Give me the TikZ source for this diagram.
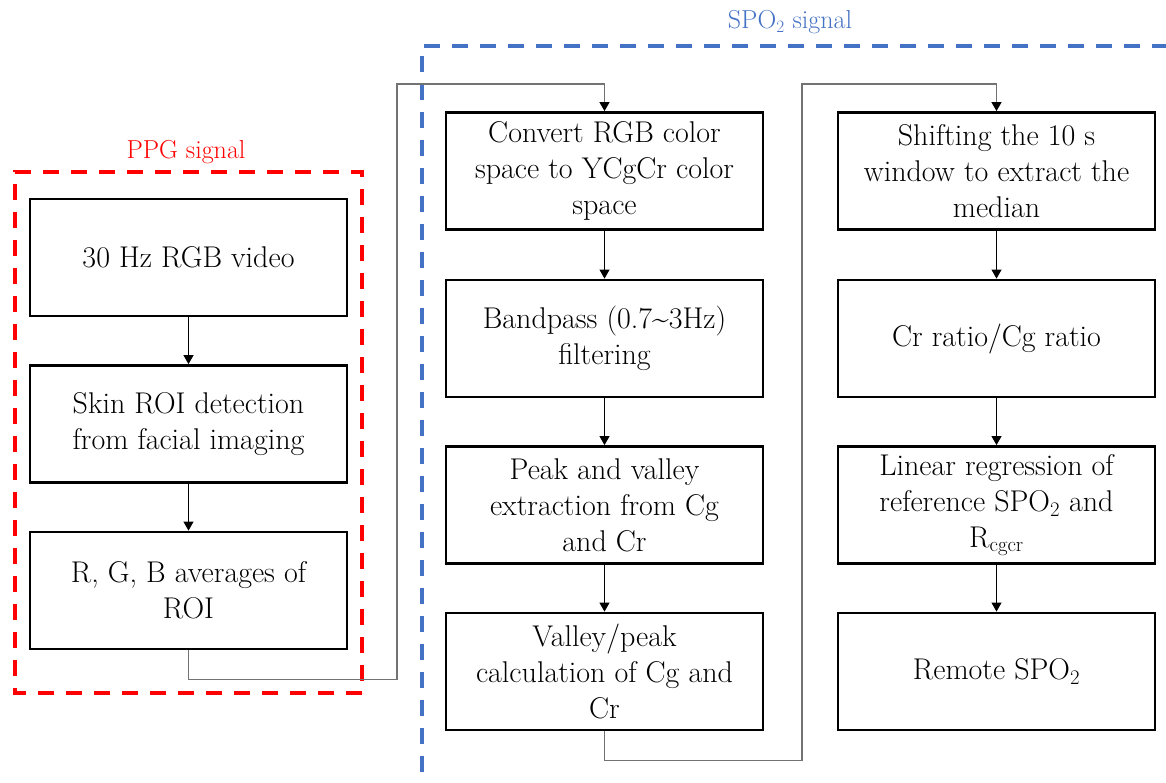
\documentclass[tikz,border=0pt]{standalone}
\usetikzlibrary{arrows.meta}
\definecolor{ppgred}{RGB}{255,0,0}
\definecolor{spoblue}{RGB}{68,114,196}
\begin{document}
\begin{tikzpicture}[x=1pt,y=-1pt,
  stepbox/.style={draw=black,line width=2.8pt,minimum width=317pt,minimum height=117pt,align=center,inner sep=2pt,font=\fontsize{30}{36}\selectfont},
  conn/.style={draw=black!55,line width=1.3pt},
  vconn/.style={draw=black,line width=1pt},
  arr/.style={-{Triangle[length=9pt,width=10pt,color=black]}},
  regionbox/.style={line width=4pt,dash pattern=on 16pt off 12pt}
]
\useasboundingbox (0,0) rectangle (1166,783);
\begin{scope}
\clip (0,0) rectangle (1166,783);
\draw[regionbox,spoblue] (422,800) -- (422,46) -- (1180,46);
\end{scope}
\draw[regionbox,ppgred] (362,693) -- (15,693) -- (15,172) -- (362,172) -- cycle;
\node[text=ppgred,font=\fontsize{26}{30}\selectfont] (ppglabel) at (186,152) {PPG signal};
\node[text=spoblue,font=\fontsize{26}{30}\selectfont] (spolabel) at (790,22) {SPO$_2$ signal};

\node[stepbox] (b1) at (188.5,257.5) {30 Hz RGB video};
\node[stepbox] (b2) at (188.5,424) {Skin ROI detection\\from facial imaging};
\node[stepbox] (b3) at (188.5,590.5) {R, G, B averages of\\ROI};

\node[stepbox] (b4) at (604.5,171) {Convert RGB color\\space to YCgCr color\\space};
\node[stepbox] (b5) at (604.5,338.5) {Bandpass (0.7\textasciitilde3Hz)\\filtering};
\node[stepbox] (b6) at (604.5,505) {Peak and valley\\extraction from Cg\\and Cr};
\node[stepbox] (b7) at (604.5,671.5) {Valley/peak\\calculation of Cg and\\Cr};

\node[stepbox] (b8) at (996.5,171) {Shifting the 10 s\\window to extract the\\median};
\node[stepbox] (b9) at (996.5,338.5) {Cr ratio/Cg ratio};
\node[stepbox] (b10) at (996.5,505) {Linear regression of\\reference SPO$_2$ and\\R$_{\mathrm{cgcr}}$};
\node[stepbox] (b11) at (996.5,671.5) {Remote SPO$_2$};

\draw[vconn,arr] (b1) -- (b2);
\draw[vconn,arr] (b2) -- (b3);
\draw[vconn,arr] (b4) -- (b5);
\draw[vconn,arr] (b5) -- (b6);
\draw[vconn,arr] (b6) -- (b7);
\draw[vconn,arr] (b8) -- (b9);
\draw[vconn,arr] (b9) -- (b10);
\draw[vconn,arr] (b10) -- (b11);

\draw[conn,arr] (b3.south) -- ++(0,29) -| (397,84) -| (b4.north);
\draw[conn,arr] (b7.south) -- ++(0,29) -| (802,84) -| (b8.north);
\end{tikzpicture}
\end{document}
